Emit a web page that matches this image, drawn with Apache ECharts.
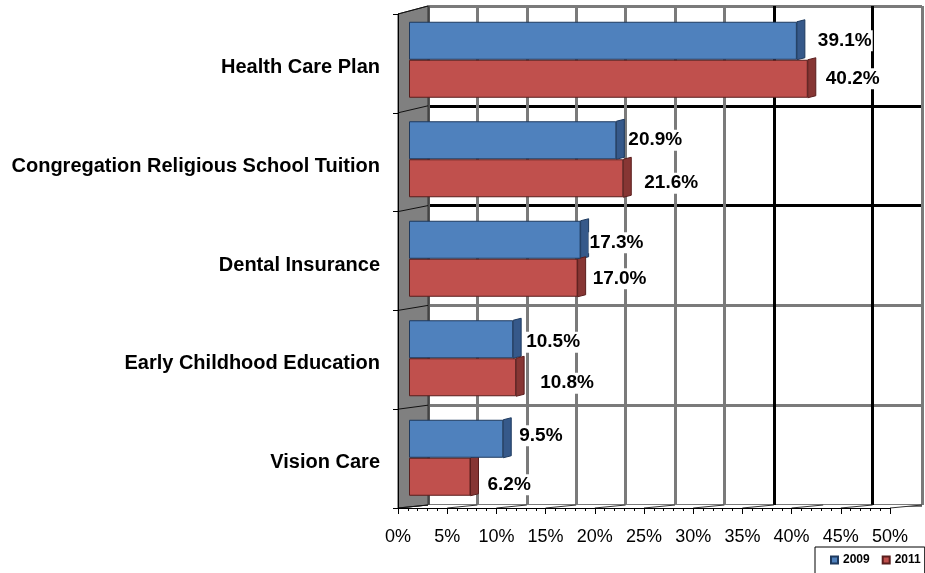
<!DOCTYPE html>
<html>
<head>
<meta charset="utf-8">
<script src="https://cdn.jsdelivr.net/npm/echarts@6/dist/echarts.min.js"></script>
<style>
  html, body { margin: 0; padding: 0; background: #ffffff; }
  #chart { width: 925px; height: 573px; }
</style>
</head>
<body>
<div id="chart"></div>
<script>
// ---- data ----
const categories = [
  'Health Care Plan',
  'Congregation Religious School Tuition',
  'Dental Insurance',
  'Early Childhood Education',
  'Vision Care'
];
const years = ['2009', '2011'];
const values2009 = [39.1, 20.9, 17.3, 10.5, 9.5];
const values2011 = [40.2, 21.6, 17.0, 10.8, 6.2];
const axisMin = 0;
const axisMax = 50;
const axisStep = 5;

// ---- style ----
const FONT = '"Liberation Sans", Arial, sans-serif';
const BAR_W = 38;          // bar thickness
const SIDE_DX = 8;         // depth of the bar's side face
const SIDE_DY = -2;
const DEPTH_X = 30;        // wall / floor depth
const FRONT_W = 492;       // front axis length
const faceColors = ['#4F81BD', '#C0504D'];
const sideColors = ['#36598A', '#873634'];
const edgeColors = ['#1E3A5F', '#5A1E1D'];
// value-label nudges [dx, dy] for each bar
const labelNudge = [
  [[20, 0], [11, 0], [8, 3], [12, 3], [15, -3]],
  [[17, 0], [20, 5], [14, 1], [23, 6], [16, 8]]
];
const vLineColors = ['#555555', '#7a7a7a', '#7a7a7a', '#7a7a7a', '#7a7a7a', '#7a7a7a',
                     '#7a7a7a', '#000000', 'rgba(0,0,0,0)', '#000000', '#7a7a7a'];
const hLineColors = ['#7a7a7a', '#000000', '#000000', '#7a7a7a', '#7a7a7a', '#7a7a7a'];

const chart = echarts.init(document.getElementById('chart'));

function barSeries(idx, values) {
  return {
    name: years[idx],
    type: 'bar',
    xAxisIndex: 2,
    yAxisIndex: 2,
    barWidth: BAR_W,
    barGap: '0%',
    z: 3,
    data: values.map((v, i) => ({
      value: v,
      label: { offset: labelNudge[idx][i] }
    })),
    itemStyle: { color: faceColors[idx], borderColor: edgeColors[idx], borderWidth: 1 },
    label: {
      show: true,
      position: 'right',
      distance: 0,
      formatter: p => p.value.toFixed(1) + '%',
      fontFamily: FONT,
      fontWeight: 'bold',
      fontSize: 19,
      color: '#000',
      backgroundColor: '#ffffff',
      padding: [1, 1]
    },
    emphasis: { disabled: true }
  };
}

// side faces of the bars, positioned through the bar axes
const sideData = [];
values2009.forEach((v, i) => sideData.push([v, i, 0]));
values2011.forEach((v, i) => sideData.push([v, i, 1]));

function renderSide(params, api) {
  const s = api.value(2);
  const p = api.coord([api.value(0), api.value(1)]);
  const top = s === 0 ? p[1] - BAR_W : p[1];
  const bot = top + BAR_W;
  const x = p[0];
  return {
    type: 'polygon',
    shape: { points: [[x, top], [x + SIDE_DX, top + SIDE_DY], [x + SIDE_DX, bot + SIDE_DY], [x, bot]] },
    style: { fill: sideColors[s], stroke: edgeColors[s], lineWidth: 1 }
  };
}

// left side wall and floor of the box, built on the back-wall axes
function renderBox(params, api) {
  const cs = params.coordSys;
  const bx = cs.x, by = cs.y, bw = cs.width, bh = cs.height;
  const fx = bx - DEPTH_X;
  const fTop = by + 8, fBot = by + bh + 3;
  const band = api.size([0, 1])[1];
  const children = [];
  // floor
  children.push({
    type: 'polygon',
    shape: { points: [[fx, fBot], [fx + FRONT_W, fBot], [bx + bw, by + bh], [bx, by + bh]] },
    style: { fill: '#ffffff', stroke: null }
  });
  for (let t = axisMin; t <= axisMax; t += axisStep) {
    const backX = api.coord([t, 0])[0];
    const frontX = fx + (backX - bx) * FRONT_W / bw;
    children.push({
      type: 'line',
      shape: { x1: frontX, y1: fBot, x2: backX, y2: by + bh },
      style: { stroke: '#333333', lineWidth: 1 }
    });
  }
  // side wall
  children.push({
    type: 'polygon',
    shape: { points: [[fx, fTop], [bx, by], [bx, by + bh], [fx, fBot]] },
    style: { fill: '#808080', stroke: '#333333', lineWidth: 1 }
  });
  for (let i = 0; i <= categories.length; i++) {
    const backY = i < categories.length
      ? api.coord([0, i])[1] - band / 2
      : api.coord([0, i - 1])[1] + band / 2;
    const frontY = fTop + (fBot - fTop) * i / categories.length;
    children.push({
      type: 'line',
      shape: { x1: fx, y1: frontY, x2: bx, y2: backY },
      style: { stroke: '#111111', lineWidth: 1 }
    });
  }
  return { type: 'group', children };
}

const option = {
  animation: false,
  backgroundColor: '#ffffff',
  grid: [
    { left: 428, top: 6, width: 494, height: 499 },          // back wall
    { left: 398, top: 14, width: FRONT_W, height: 494 },     // front axes
    { left: 409, top: 10, width: 496, height: 497.5 },       // bars
    { left: 398, top: 18, width: FRONT_W, height: 494 }      // category names
  ],
  legend: {
    data: years,
    left: 815,
    top: 547,
    width: 140,
    orient: 'horizontal',
    icon: 'rect',
    itemWidth: 7,
    itemHeight: 7,
    itemGap: 12,
    padding: [7, 4, 8, 15],
    borderColor: '#000000',
    borderWidth: 1,
    textStyle: { fontFamily: FONT, fontWeight: 'bold', fontSize: 12, color: '#000' }
  },
  xAxis: [
    {
      gridIndex: 0, type: 'value', min: axisMin, max: axisMax, interval: axisStep,
      axisLine: { show: false }, axisTick: { show: false }, axisLabel: { show: false },
      splitLine: { show: true, lineStyle: { color: vLineColors, width: 3 } }
    },
    {
      gridIndex: 1, type: 'value', min: axisMin, max: axisMax, interval: axisStep, z: 6,
      axisLine: { show: true, lineStyle: { color: '#000', width: 1 } },
      axisTick: { show: true, length: 6, lineStyle: { color: '#000' } },
      minorTick: { show: true, splitNumber: 5, length: 3, lineStyle: { color: '#000' } },
      splitLine: { show: false },
      axisLabel: {
        formatter: '{value}%', fontFamily: FONT, fontSize: 18, color: '#000', margin: 20
      }
    },
    {
      gridIndex: 2, type: 'value', min: axisMin, max: axisMax, show: false
    },
    {
      gridIndex: 3, type: 'value', min: axisMin, max: axisMax, show: false
    }
  ],
  yAxis: [
    {
      gridIndex: 0, type: 'category', data: categories, inverse: true,
      axisLine: { show: false }, axisTick: { show: false }, axisLabel: { show: false },
      splitLine: { show: true, lineStyle: { color: hLineColors, width: 3 } }
    },
    {
      gridIndex: 1, type: 'category', data: categories, inverse: true, z: 6,
      axisLine: { show: true, lineStyle: { color: '#000', width: 1 } },
      axisTick: { show: true, length: 5, lineStyle: { color: '#000' } },
      splitLine: { show: false },
      axisLabel: { show: false }
    },
    {
      gridIndex: 2, type: 'category', data: categories, inverse: true, show: false
    },
    {
      gridIndex: 3, type: 'category', data: categories, inverse: true,
      axisLine: { show: false }, axisTick: { show: false }, splitLine: { show: false },
      axisLabel: {
        fontFamily: FONT, fontWeight: 'bold', fontSize: 20, color: '#000', margin: 18
      }
    }
  ],
  series: [
    {
      type: 'custom',
      xAxisIndex: 0,
      yAxisIndex: 0,
      z: 1,
      silent: true,
      data: [[axisMin, 0]],
      renderItem: renderBox
    },
    barSeries(0, values2009),
    barSeries(1, values2011),
    {
      type: 'custom',
      xAxisIndex: 2,
      yAxisIndex: 2,
      z: 2,
      silent: true,
      data: sideData,
      renderItem: renderSide
    }
  ]
};

chart.setOption(option);
</script>
</body>
</html>
